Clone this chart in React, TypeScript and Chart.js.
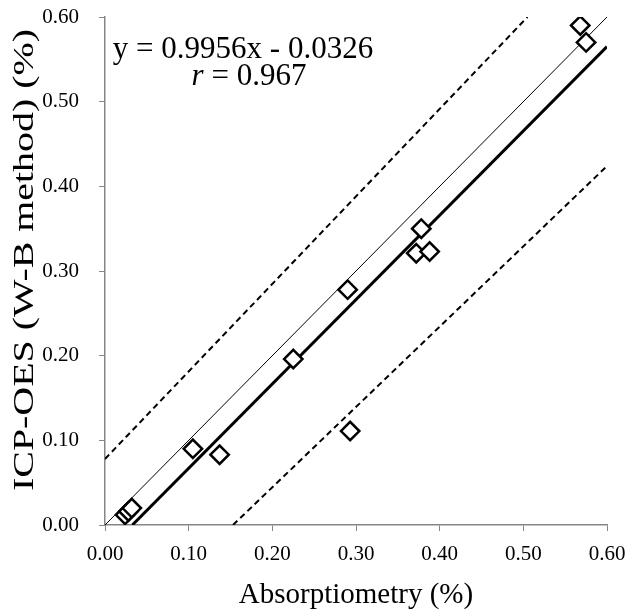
import React, { useEffect, useRef } from "react";
import { Chart, registerables } from "chart.js";

Chart.register(...registerables);

const absX = [0.024, 0.028, 0.032, 0.105, 0.137, 0.225, 0.29, 0.293, 0.372, 0.378, 0.388, 0.568, 0.575];
const icpY = [0.012, 0.016, 0.02, 0.09, 0.083, 0.196, 0.278, 0.111, 0.321, 0.35, 0.323, 0.59, 0.57];

const identityX = [0, 0.6];
const identityY = [0, 0.6];
const regX = [0.0327, 0.6];
const regY = [0, 0.565];
const upperX = [0, 0.505];
const upperY = [0.078, 0.6];
const lowerX = [0.153, 0.6];
const lowerY = [0, 0.424];

const xTicks = [0, 0.1, 0.2, 0.3, 0.4, 0.5, 0.6];
const yTicks = [0, 0.1, 0.2, 0.3, 0.4, 0.5, 0.6];

const equationText = "y = 0.9956x - 0.0326";
const rText = " = 0.967";
const xTitle = "Absorptiometry (%)";
const yTitle = "ICP-OES (W-B method) (%)";

const FONT = "'Liberation Serif', 'Times New Roman', serif";
const AXIS = "#868686";

const pts = (xs: number[], ys: number[]) => xs.map((x, i) => ({ x, y: ys[i] }));

const annotation = {
  id: "eqn",
  afterDatasetsDraw(chart: any) {
    const ctx = chart.ctx;
    ctx.save();
    ctx.fillStyle = "#000";
    ctx.textBaseline = "alphabetic";
    ctx.font = `31px ${FONT}`;
    ctx.textAlign = "center";
    ctx.fillText(equationText, 243, 58);
    ctx.font = `italic 31px ${FONT}`;
    const rw = ctx.measureText("r").width;
    ctx.font = `31px ${FONT}`;
    const restW = ctx.measureText(rText).width;
    const total = rw + restW;
    const start = 249 - total / 2;
    ctx.textAlign = "left";
    ctx.font = `italic 31px ${FONT}`;
    ctx.fillText("r", start, 85);
    ctx.font = `31px ${FONT}`;
    ctx.fillText(rText, start + rw, 85);

    // axis titles
    const area = chart.chartArea;
    ctx.font = `29px ${FONT}`;
    ctx.textAlign = "center";
    ctx.fillText(xTitle, (area.left + area.right) / 2, 603);

    ctx.save();
    ctx.translate(33, 260);
    ctx.rotate(-Math.PI / 2);
    ctx.font = `30px ${FONT}`;
    const w = ctx.measureText(yTitle).width;
    const target = 462;
    ctx.scale(target / w, 1);
    ctx.textAlign = "center";
    ctx.fillText(yTitle, 0, 0);
    ctx.restore();

    ctx.restore();
  },
};

export default function App() {
  const ref = useRef<HTMLCanvasElement | null>(null);
  useEffect(() => {
    if (!ref.current) return;
    const lineDs = (data: any, width: number, dash: number[]) => ({
      type: "scatter" as const,
      data,
      showLine: true,
      borderColor: "#000",
      borderWidth: width,
      borderDash: dash,
      pointRadius: 0,
      pointHoverRadius: 0,
      fill: false,
      order: 2,
    });
    const chart = new Chart(ref.current, {
      type: "scatter",
      data: {
        datasets: [
          {
            data: pts(absX, icpY),
            pointStyle: "rectRot",
            pointRadius: 9.2,
            pointBorderWidth: 2.5,
            pointBorderColor: "#000",
            pointBackgroundColor: "#fff",
            showLine: false,
            order: 0,
          } as any,
          lineDs(pts(identityX, identityY), 1, []),
          lineDs(pts(regX, regY), 3, []),
          lineDs(pts(upperX, upperY), 2, [6, 4]),
          lineDs(pts(lowerX, lowerY), 2, [6, 4]),
        ],
      },
      options: {
        animation: false,
        responsive: false,
        devicePixelRatio: 1,
        layout: { padding: { top: 17, right: 18, left: 0, bottom: 0 } },
        plugins: { legend: { display: false }, tooltip: { enabled: false } },
        scales: {
          x: {
            type: "linear",
            min: 0,
            max: 0.6,
            afterBuildTicks: (s: any) => {
              s.ticks = xTicks.map((v) => ({ value: v }));
            },
            afterFit: (s: any) => {
              s.height = 88;
              s.paddingLeft = 0;
              s.paddingRight = 0;
            },
            ticks: {
              color: "#000",
              font: { family: FONT, size: 21 },
              padding: 11,
              maxRotation: 0,
              callback: (v: any) => Number(v).toFixed(2),
            },
            grid: { drawOnChartArea: false, drawTicks: true, tickLength: 6, color: AXIS },
            border: { color: AXIS, width: 1.5 },
            title: { display: false },
          },
          y: {
            type: "linear",
            min: 0,
            max: 0.6,
            afterBuildTicks: (s: any) => {
              s.ticks = yTicks.map((v) => ({ value: v }));
            },
            afterFit: (s: any) => {
              s.width = 105;
              s.paddingTop = 0;
              s.paddingBottom = 0;
            },
            ticks: {
              color: "#000",
              font: { family: FONT, size: 21 },
              padding: 20,
              callback: (v: any) => Number(v).toFixed(2),
            },
            grid: { drawOnChartArea: false, drawTicks: true, tickLength: 6, color: AXIS },
            border: { color: AXIS, width: 1.5 },
            title: { display: false },
          },
        },
      },
      plugins: [annotation],
    } as any);
    return () => chart.destroy();
  }, []);
  return (
    <div style={{ position: "fixed", left: 0, top: 0, width: 625, height: 613, background: "#fff" }}>
      <canvas ref={ref} width={625} height={613} style={{ width: 625, height: 613, display: "block" }} />
    </div>
  );
}
